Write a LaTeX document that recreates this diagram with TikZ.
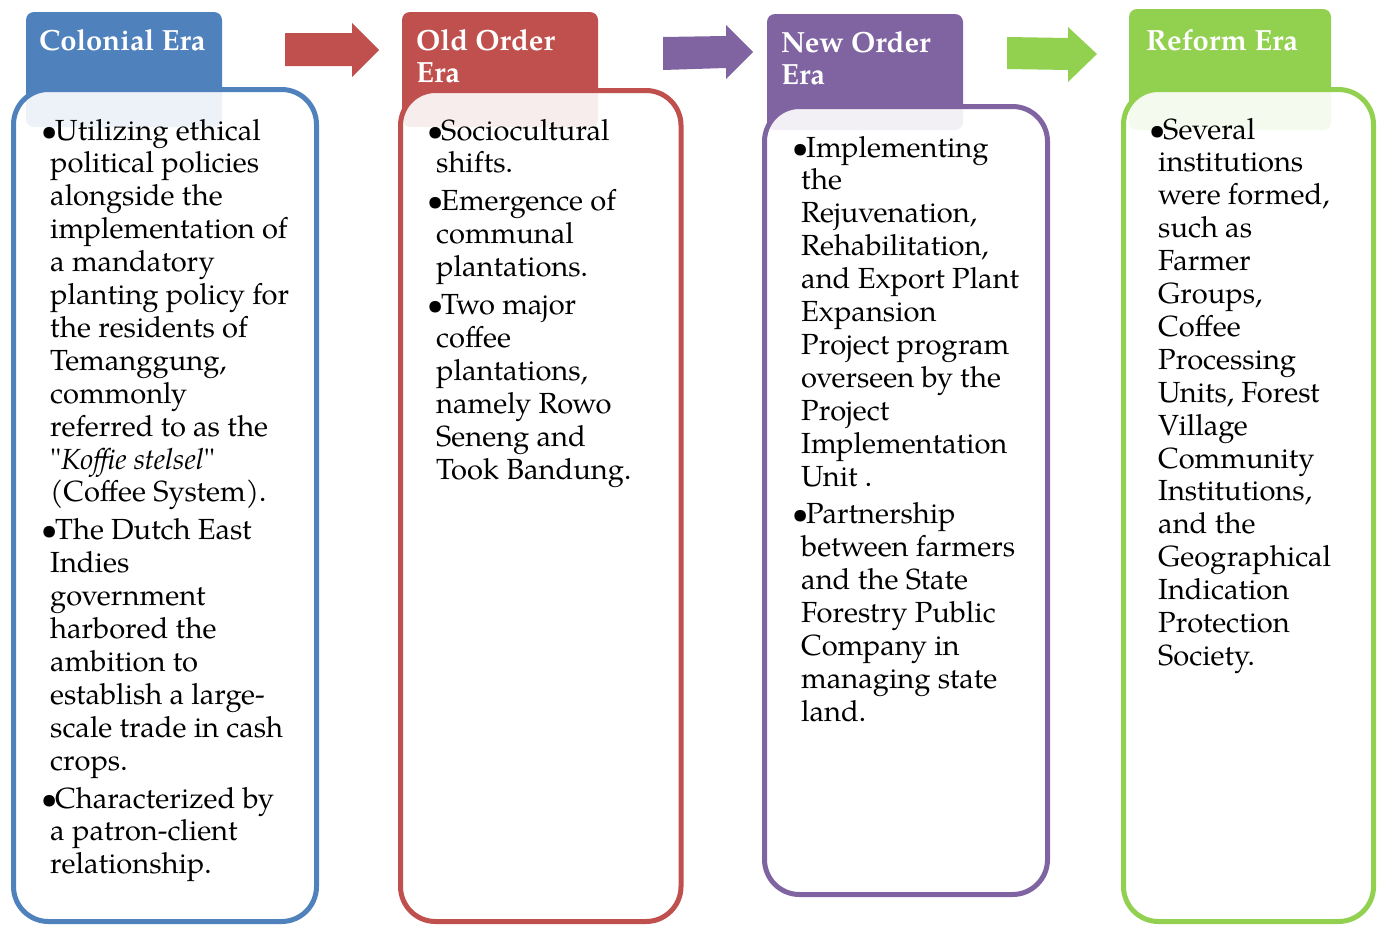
\documentclass[tikz,border=0pt]{standalone}
\usepackage{fontspec}
\setmainfont{TeX Gyre Pagella}[Ligatures=TeXOff]
\definecolor{cblue}{HTML}{4F81BD}
\definecolor{cred}{HTML}{C0504D}
\definecolor{cpurple}{HTML}{8064A2}
\definecolor{cgreen}{HTML}{92D050}
\newcommand{\bl}{\makebox[14pt][l]{•}}
\newcommand{\cl}{\hspace*{9pt}}
\tikzset{
  header/.style={rounded corners=8pt},
  content/.style={rounded corners=35pt, line width=5pt, fill=white, fill opacity=0.9, draw opacity=1},
  bodytext/.style={anchor=base west, inner sep=0pt, font=\fontsize{29.1}{32.9}\selectfont, text=black},
  headtext/.style={anchor=base west, inner sep=0pt, font=\fontsize{29.2}{32}\selectfont\bfseries, text=white},
}
\begin{document}
\begin{tikzpicture}[x=1pt,y=-1pt]
\useasboundingbox (0,0) rectangle (1378,924);
% arrows
\fill[cred] (285,33) -- (352,33) -- (352,23) -- (379,50) -- (352,77) -- (352,66) -- (285,66) -- cycle;
\fill[cpurple] (663,37) -- (726,36) -- (726,25) -- (753,52) -- (726,79) -- (726,68) -- (663,70) -- cycle;
\fill[cgreen] (1007,37) -- (1068,38) -- (1068,27) -- (1097,54) -- (1068,82) -- (1068,70) -- (1007,69) -- cycle;
% headers
\fill[cblue, header] (26,12) rectangle (222,127);
\fill[cred, header] (402,12) rectangle (598,127);
\fill[cpurple, header] (767,14) rectangle (963,130);
\fill[cgreen, header] (1129,9) rectangle (1331,130);
% content boxes
\draw[content, draw=cblue] (13.5,89.5) rectangle (316.5,921.5);
\draw[content, draw=cred] (400.5,90.5) rectangle (681,921.5);
\draw[content, draw=cpurple] (764.5,106.5) rectangle (1047.5,894.5);
\draw[content, draw=cgreen] (1123.5,89.5) rectangle (1373.5,921.5);
% header texts
\node[headtext] (h1) at (39,50) {\begin{tabular}[t]{@{}l@{}}Colonial Era\end{tabular}};
\node[headtext] (h2) at (416,50) {\begin{tabular}[t]{@{}l@{}}Old Order\\Era\end{tabular}};
\node[headtext] (h3) at (781,52) {\begin{tabular}[t]{@{}l@{}}New Order\\Era\end{tabular}};
\node[headtext] (h4) at (1146,50) {\begin{tabular}[t]{@{}l@{}}Reform Era\end{tabular}};
% body texts
\node[bodytext] (t1) at (41,140) {\begin{tabular}[t]{@{}l@{}}
\bl Utilizing ethical\\
\cl political policies\\
\cl alongside the\\
\cl implementation of\\
\cl a mandatory\\
\cl planting policy for\\
\cl the residents of\\
\cl Temanggung,\\
\cl commonly\\
\cl referred to as the\\
\cl "\textit{Koffie stelsel}"\\
\cl (Coffee System).\\[5pt]
\bl The Dutch East\\
\cl Indies\\
\cl government\\
\cl harbored the\\
\cl ambition to\\
\cl establish a large-\\
\cl scale trade in cash\\
\cl crops.\\[5pt]
\bl Characterized by\\
\cl a patron-client\\
\cl relationship.
\end{tabular}};
\node[bodytext] (t2) at (427,140) {\begin{tabular}[t]{@{}l@{}}
\bl Sociocultural\\
\cl shifts.\\[5pt]
\bl Emergence of\\
\cl communal\\
\cl plantations.\\[5pt]
\bl Two major\\
\cl coffee\\
\cl plantations,\\
\cl namely Rowo\\
\cl Seneng and\\
\cl Took Bandung.
\end{tabular}};
\node[bodytext] (t3) at (792,157) {\begin{tabular}[t]{@{}l@{}}
\bl Implementing\\
\cl the\\
\cl Rejuvenation,\\
\cl Rehabilitation,\\
\cl and Export Plant\\
\cl Expansion\\
\cl Project program\\
\cl overseen by the\\
\cl Project\\
\cl Implementation\\
\cl Unit .\\[5pt]
\bl Partnership\\
\cl between farmers\\
\cl and the State\\
\cl Forestry Public\\
\cl Company in\\
\cl managing state\\
\cl land.
\end{tabular}};
\node[bodytext] (t4) at (1149,139) {\begin{tabular}[t]{@{}l@{}}
\bl Several\\
\cl institutions\\
\cl were formed,\\
\cl such as\\
\cl Farmer\\
\cl Groups,\\
\cl Coffee\\
\cl Processing\\
\cl Units, Forest\\
\cl Village\\
\cl Community\\
\cl Institutions,\\
\cl and the\\
\cl Geographical\\
\cl Indication\\
\cl Protection\\
\cl Society.
\end{tabular}};
\end{tikzpicture}
\end{document}
